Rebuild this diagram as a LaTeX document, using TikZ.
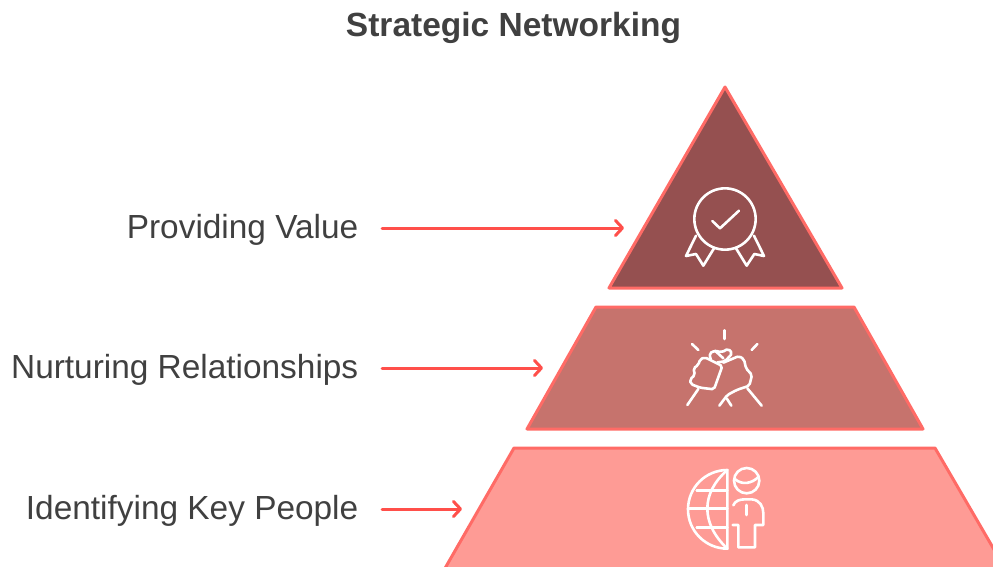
\documentclass[tikz,border=0pt]{standalone}
\usepackage{fontspec}
\setmainfont{Liberation Sans}
\usetikzlibrary{arrows.meta}
\definecolor{txt}{HTML}{404040}
\definecolor{edge}{HTML}{FF6B66}
\definecolor{arrowc}{HTML}{FF4F4A}
\definecolor{tierA}{HTML}{955050}
\definecolor{tierB}{HTML}{C6736D}
\definecolor{tierC}{HTML}{FE9B95}
\tikzset{
  tier/.style={draw=edge,line width=3pt,line join=round},
  lab/.style={anchor=east,text=txt,font=\fontsize{33.4}{36}\selectfont,inner sep=0pt},
  conn/.style={draw=arrowc,line width=3pt,line cap=round,
    -{Straight Barb[length=7pt,width=15pt,line width=3pt,round]}},
  ico/.style={draw=white,line width=2.6pt,line cap=round,line join=round},
}
\begin{document}
\begin{tikzpicture}[x=1pt,y=-1pt]
\useasboundingbox (0,0) rectangle (993,567);
\clip (0,0) rectangle (993,567);
\node[text=txt,font=\fontsize{33.5}{36}\selectfont\bfseries,inner sep=0pt] (title) at (513.5,28) {Strategic Networking};
% tiers
\path[tier,fill=tierA] (725,87) -- (842,288) -- (609,288) -- cycle;
\path[tier,fill=tierB] (596,307) -- (854,307) -- (923,429) -- (527,429) -- cycle;
\path[tier,fill=tierC] (514,448) -- (935,448) -- (1010,577) -- (440,577) -- cycle;
% labels
\node[lab] (l1) at (358.5,230) {Providing Value};
\node[lab] (l2) at (358.5,370) {Nurturing Relationships};
\node[lab] (l3) at (358.5,511) {Identifying Key People};
\coordinate (s1) at (382,228);
\coordinate (s2) at (382,368);
\coordinate (s3) at (382,509);
\coordinate (t1) at (624,228);
\coordinate (t2) at (543,368);
\coordinate (t3) at (462,509);
\draw[conn] (s1) -- (t1);
\draw[conn] (s2) -- (t2);
\draw[conn] (s3) -- (t3);
% medal icon
\begin{scope}[shift={(660,170)},x=0.33333pt,y=-0.33333pt]
\draw[ico] (195,147) circle (92);
\draw[ico] (157,153) -- (180,175) -- (237,122);
\draw[ico] (108,197) -- (78,258) -- (108,252) -- (130,287) -- (162,235);
\draw[ico] (282,197) -- (312,258) -- (283,252) -- (260,287) -- (228,235);
\end{scope}
% handshake icon
\begin{scope}[shift={(670,320)},x=0.33333pt,y=-0.33333pt]
\draw[ico] (163,31) -- (163,57);
\draw[ico] (66,72) -- (85,90);
\draw[ico] (262,72) -- (245,90);
\draw[ico,rounded corners=2pt] (90,118) -- (105,112) -- (157,138) -- (132,208) -- (90,203) -- (62,192) -- (60,178) -- (75,165) -- (70,145) -- (85,135) -- cycle;
\draw[ico] (85,207) -- (52,255);
\draw[ico,rounded corners=2pt] (122,118) -- (118,100) -- (135,92) -- (155,97) -- (175,86) -- (187,100) -- (165,124) -- (142,127);
\draw[ico] (135,92) -- (160,115);
\draw[ico,rounded corners=2pt] (160,128) -- (207,108) -- (222,118) -- (228,145) -- (246,165) -- (238,197) -- (200,210) -- (172,225) -- (148,257);
\draw[ico] (232,205) -- (275,257);
\draw[ico] (170,235) -- (184,257);
\end{scope}
% globe and person icon
\begin{scope}[shift={(670,460)},x=0.33333pt,y=-0.33333pt]
\draw[ico] (172,30) arc[start angle=90,end angle=270,radius=39.33pt] -- cycle;
\draw[ico] (172,30) .. controls (92,100) and (92,190) .. (172,266);
\draw[ico] (80,92) -- (172,92);
\draw[ico] (54,145) -- (172,145);
\draw[ico] (80,203) -- (172,203);
\draw[ico] (230,62) circle (38);
\draw[ico] (196,58) .. controls (215,75) and (245,72) .. (266,50);
\draw[ico] (190,136) .. controls (195,122) and (210,118) .. (225,118) -- (245,118) .. controls (270,120) and (280,140) .. (280,160) -- (280,195) -- (255,195) -- (255,262) -- (205,262) -- (205,195) -- (188,195);
\draw[ico] (230,135) -- (230,165);
\end{scope}
\end{tikzpicture}
\end{document}
